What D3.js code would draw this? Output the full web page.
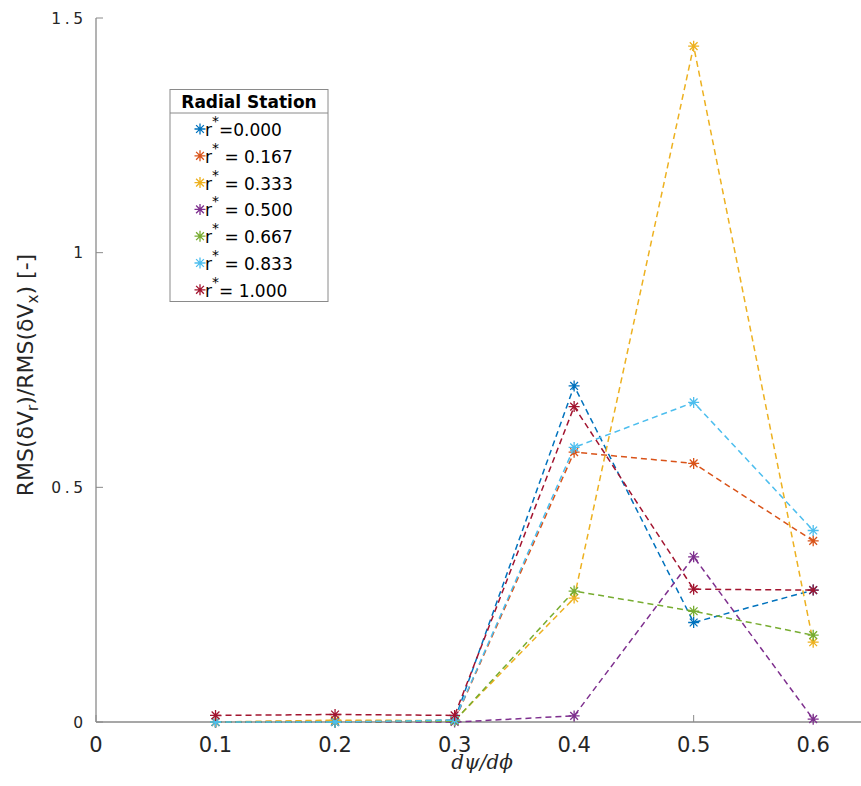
<!DOCTYPE html>
<html>
<head>
<meta charset="utf-8">
<script src="https://cdn.jsdelivr.net/npm/d3@7"></script>
<style>
  body { margin: 0; background: #fff; }
  svg { display: block; }
</style>
</head>
<body>
<svg id="chart" width="861" height="786"></svg>
<script>
// x values (dpsi/dphi)
const xVals = [0.1, 0.2, 0.3, 0.4, 0.5, 0.6];

// one array per radial station
const r000 = [0.000, 0.000, 0.004, 0.716, 0.212, 0.281];
const r167 = [0.000, 0.002, 0.003, 0.575, 0.551, 0.386];
const r333 = [0.000, 0.004, 0.003, 0.264, 1.440, 0.170];
const r500 = [0.000, 0.000, 0.000, 0.013, 0.352, 0.006];
const r667 = [0.000, 0.000, 0.002, 0.279, 0.236, 0.185];
const r833 = [0.000, 0.000, 0.004, 0.585, 0.681, 0.408];
const r1000 = [0.014, 0.016, 0.014, 0.672, 0.283, 0.281];

const seriesNames = ["=0.000", " = 0.167", " = 0.333", " = 0.500", " = 0.667", " = 0.833", "= 1.000"];
const seriesVals = [r000, r167, r333, r500, r667, r833, r1000];

const xTicks = [0, 0.1, 0.2, 0.3, 0.4, 0.5, 0.6];
const yTicks = [0, 0.5, 1, 1.5];
const yTickLabels = ["0", "0.5", "1", "1.5"];

const colors = ["#0072BD", "#D95319", "#EDB120", "#7E2F8E", "#77AC30", "#4DBEEE", "#A2142F"];

const svg = d3.select("#chart");
const axisColor = "#8a8a8a";
const textColor = "#262626";

const x = d3.scaleLinear().domain([0, 0.64]).range([96, 861]);
const y = d3.scaleLinear().domain([0, 1.5]).range([722, 18]);

// axes lines (box off)
svg.append("line")
  .attr("x1", x(0)).attr("x2", x(0.64))
  .attr("y1", y(0)).attr("y2", y(0))
  .attr("stroke", axisColor).attr("stroke-width", 1.3);
svg.append("line")
  .attr("x1", x(0)).attr("x2", x(0))
  .attr("y1", y(0)).attr("y2", y(1.5))
  .attr("stroke", axisColor).attr("stroke-width", 1.3);

// inward ticks
svg.selectAll(".xtick").data(xTicks).enter().append("line")
  .attr("x1", d => x(d)).attr("x2", d => x(d))
  .attr("y1", y(0)).attr("y2", y(0) - 7)
  .attr("stroke", axisColor).attr("stroke-width", 1);
svg.selectAll(".ytick").data(yTicks).enter().append("line")
  .attr("x1", x(0)).attr("x2", x(0) + 7)
  .attr("y1", d => y(d)).attr("y2", d => y(d))
  .attr("stroke", axisColor).attr("stroke-width", 1);

// tick labels
svg.selectAll(".xlab").data(xTicks).enter().append("text")
  .attr("x", d => x(d)).attr("y", 752)
  .attr("text-anchor", "middle")
  .style("font-family", "DejaVu Sans")
  .style("font-size", "21px")
  .attr("fill", textColor)
  .text(d => d === 0 ? "0" : d3.format(".1f")(d));

svg.selectAll(".ylab").data(yTicks).enter().append("text")
  .attr("x", 86.5).attr("y", d => y(d) + 5.5)
  .attr("text-anchor", "end")
  .style("font-family", "DejaVu Sans")
  .style("font-size", "15.5px")
  .style("letter-spacing", "3.5px")
  .attr("fill", textColor)
  .text((d, i) => yTickLabels[i]);

// y axis title
const yt = svg.append("text")
  .attr("transform", "translate(33,375) rotate(-90)")
  .attr("text-anchor", "middle")
  .style("font-family", "DejaVu Sans")
  .style("font-size", "22px")
  .attr("fill", textColor);
yt.append("tspan").text("RMS(δV");
yt.append("tspan").attr("baseline-shift", "-30%").style("font-size", "15px").text("r");
yt.append("tspan").text(")/RMS(δV");
yt.append("tspan").attr("baseline-shift", "-30%").style("font-size", "15px").text("x");
yt.append("tspan").text(") [-]");

// x axis title
svg.append("text")
  .attr("x", 482).attr("y", 769)
  .attr("text-anchor", "middle")
  .style("font-family", "DejaVu Serif")
  .style("font-style", "italic")
  .style("font-size", "20px")
  .attr("fill", textColor)
  .text("dψ/dϕ");

// asterisk marker path
function star(r) {
  const d = r * Math.SQRT1_2;
  return `M${-r},0L${r},0M0,${-r}L0,${r}M${-d},${-d}L${d},${d}M${-d},${d}L${d},${-d}`;
}

const line = d3.line().x(d => x(d[0])).y(d => y(d[1]));

seriesVals.forEach((vals, i) => {
  const pts = xVals.map((xv, j) => [xv, vals[j]]);
  svg.append("path")
    .datum(pts)
    .attr("d", line)
    .attr("fill", "none")
    .attr("stroke", colors[i])
    .attr("stroke-width", 1.5)
    .attr("stroke-dasharray", "6,4");
  svg.selectAll(null).data(pts).enter().append("path")
    .attr("transform", d => `translate(${x(d[0])},${y(d[1])})`)
    .attr("d", star(5.5))
    .attr("fill", "none")
    .attr("stroke", colors[i])
    .attr("stroke-width", 1.3);
});

// legend
const lg = svg.append("g");
lg.append("rect")
  .attr("x", 170).attr("y", 89.5)
  .attr("width", 158).attr("height", 212)
  .attr("fill", "#fff")
  .attr("stroke", "#8a8a8a").attr("stroke-width", 1);
lg.append("line")
  .attr("x1", 170).attr("x2", 328)
  .attr("y1", 113).attr("y2", 113)
  .attr("stroke", "#8a8a8a").attr("stroke-width", 1);
lg.append("text")
  .attr("x", 249).attr("y", 108)
  .attr("text-anchor", "middle")
  .style("font-family", "DejaVu Sans")
  .style("font-weight", "bold")
  .style("font-size", "17px")
  .attr("fill", "#000")
  .text("Radial Station");

seriesNames.forEach((name, i) => {
  const cy = 129 + i * 26.8;
  lg.append("path")
    .attr("transform", `translate(200,${cy})`)
    .attr("d", star(5.5))
    .attr("fill", "none")
    .attr("stroke", colors[i])
    .attr("stroke-width", 1.3);
  const t = lg.append("text")
    .attr("x", 205).attr("y", cy + 7)
    .style("font-family", "DejaVu Sans")
    .style("font-size", "17px")
    .attr("fill", "#000")
    .style("white-space", "pre")
    .attr("xml:space", "preserve");
  t.append("tspan").text("r");
  t.append("tspan").attr("dy", -10).style("font-size", "14px").text("*");
  t.append("tspan").attr("dy", 10).text(name);
});
</script>
</body>
</html>
